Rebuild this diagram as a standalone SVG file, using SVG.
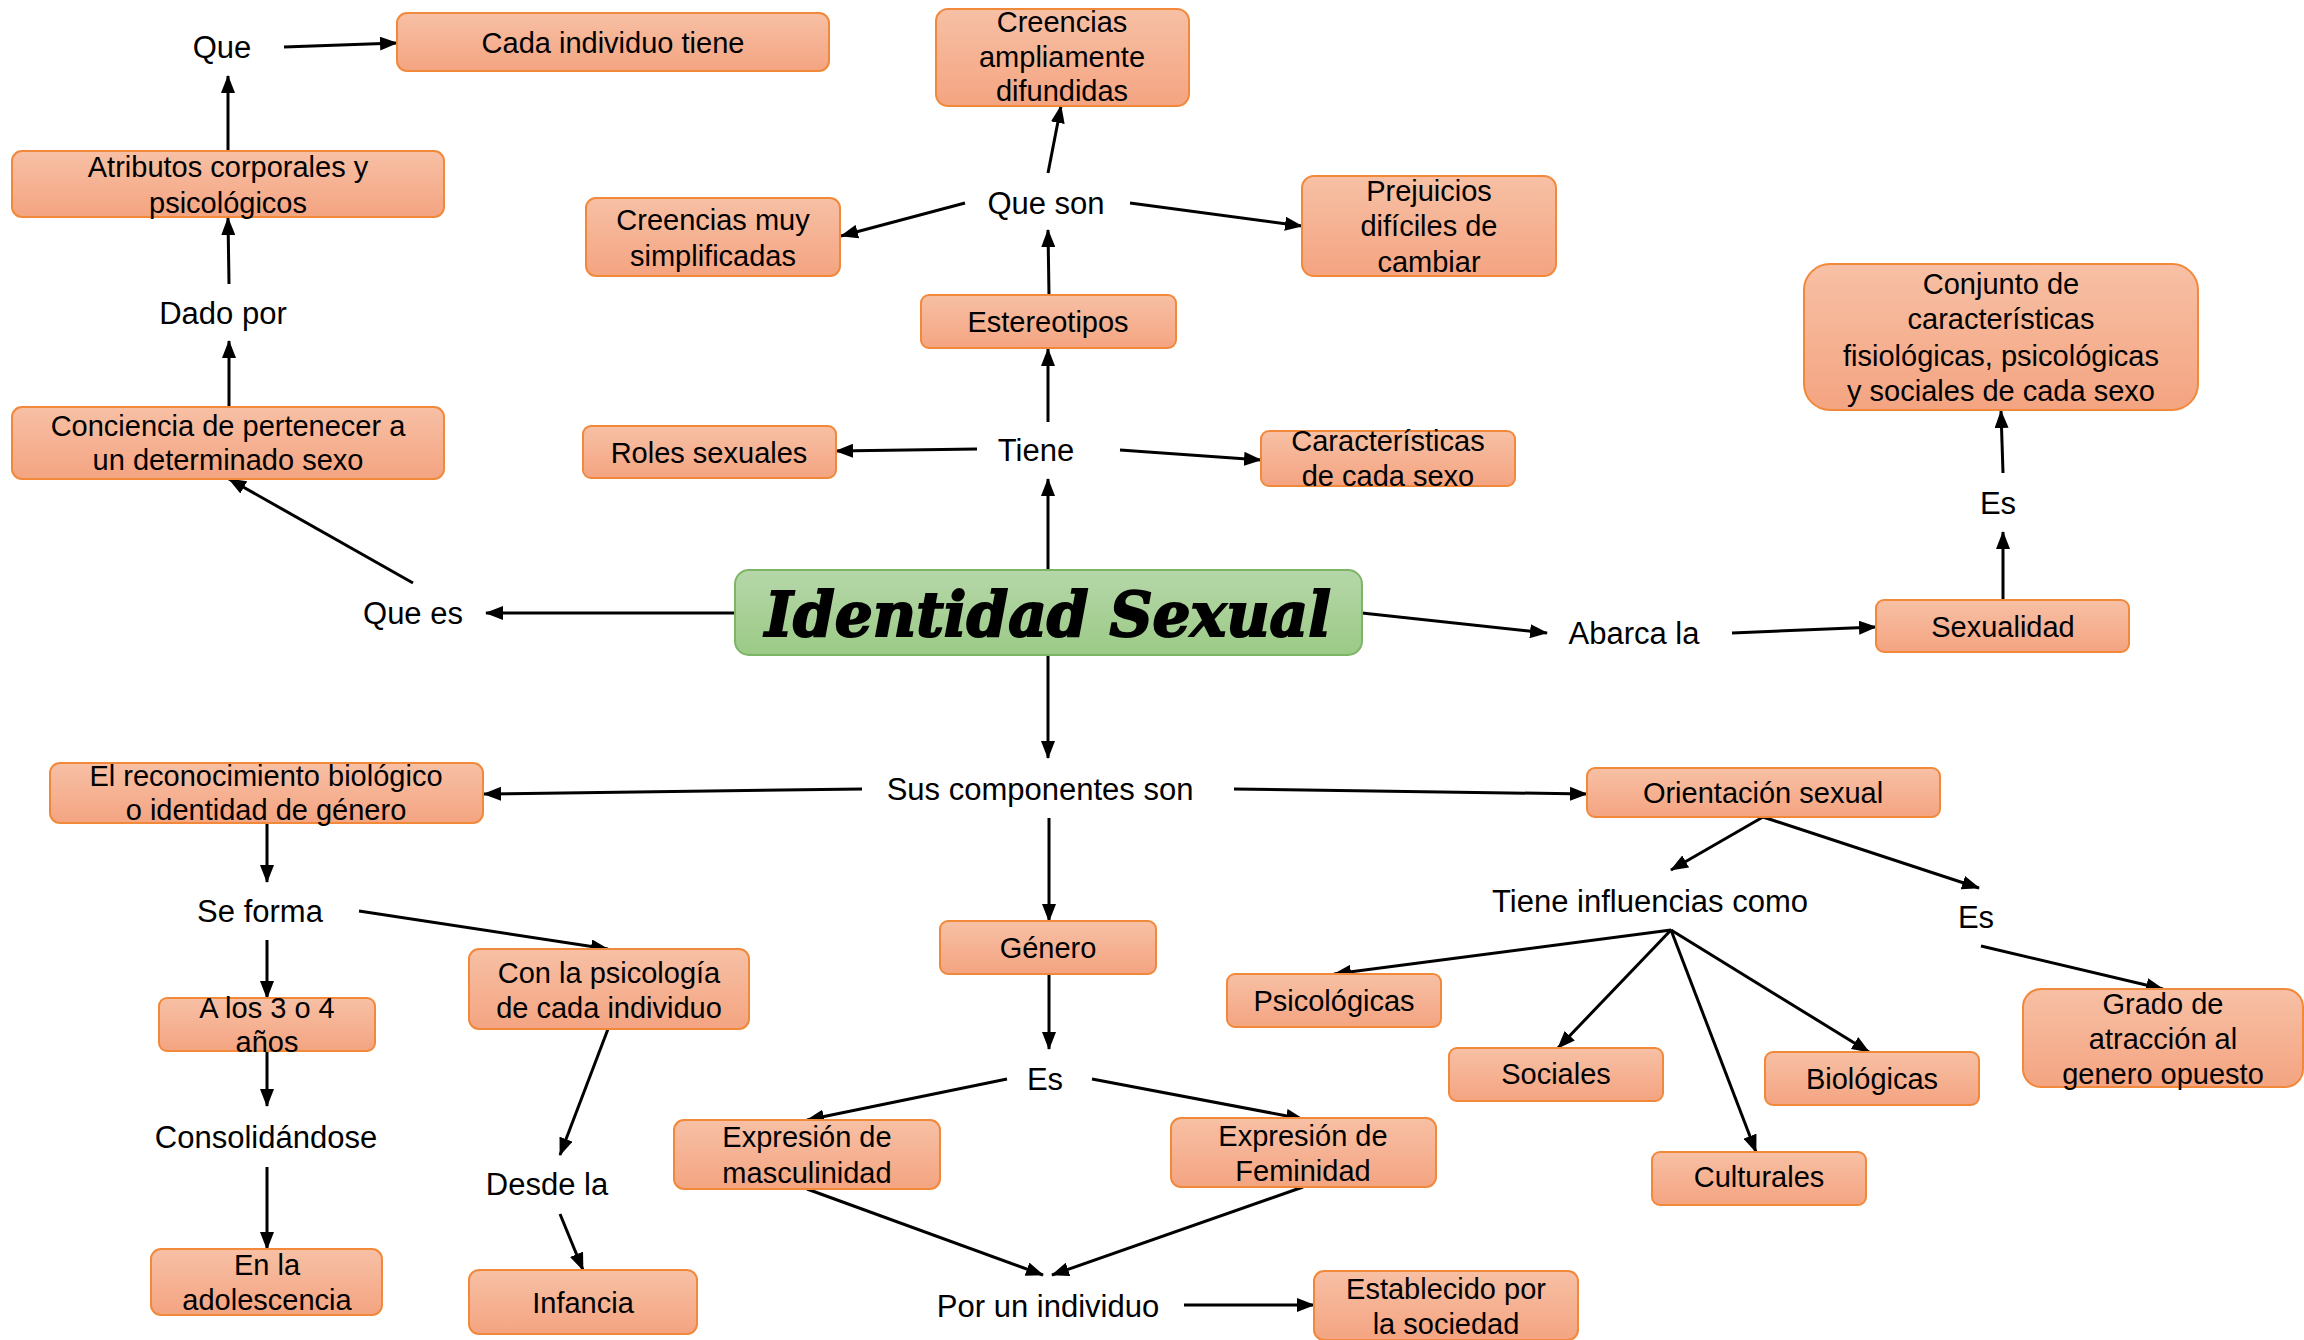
<svg xmlns="http://www.w3.org/2000/svg" width="2304" height="1340" viewBox="0 0 2304 1340">
<defs>
<linearGradient id="og" x1="0" y1="0" x2="0" y2="1"><stop offset="0" stop-color="#f7c0a5"/><stop offset="1" stop-color="#f4a481"/></linearGradient>
<linearGradient id="gg" x1="0" y1="0" x2="0" y2="1"><stop offset="0" stop-color="#b6d7a9"/><stop offset="1" stop-color="#9bca86"/></linearGradient>
<marker id="ah" markerUnits="userSpaceOnUse" markerWidth="18" markerHeight="14" refX="17" refY="7" orient="auto"><path d="M0,0 L18,7 L0,14 z" fill="#000"/></marker>
</defs>
<style>
.b{fill:url(#og);stroke:#f2883a;stroke-width:2}
.g{fill:url(#gg);stroke:#7db566;stroke-width:2}
.t{font-family:"Liberation Sans",Arial,sans-serif;font-size:29px;fill:#000;text-anchor:middle}
.l{font-family:"Liberation Sans",Arial,sans-serif;font-size:31px;fill:#000;text-anchor:middle}
.c line{stroke:#000;stroke-width:3;marker-end:url(#ah)}
</style>
<rect width="2304" height="1340" fill="#fff"/>
<g class="c" id="connectors">
<line x1="284" y1="47" x2="397" y2="43"/>
<line x1="228" y1="151" x2="228" y2="76"/>
<line x1="229" y1="284" x2="228" y2="218"/>
<line x1="229" y1="407" x2="229" y2="341"/>
<line x1="413" y1="583" x2="229" y2="479"/>
<line x1="735" y1="613" x2="486" y2="613"/>
<line x1="1048" y1="570" x2="1048" y2="479"/>
<line x1="1048" y1="422" x2="1048" y2="349"/>
<line x1="1049" y1="295" x2="1048" y2="230"/>
<line x1="1048" y1="173" x2="1061" y2="106"/>
<line x1="965" y1="203" x2="841" y2="236"/>
<line x1="1130" y1="203" x2="1302" y2="226"/>
<line x1="977" y1="449" x2="836" y2="451"/>
<line x1="1120" y1="450" x2="1261" y2="460"/>
<line x1="1362" y1="613" x2="1547" y2="633"/>
<line x1="1732" y1="633" x2="1876" y2="627"/>
<line x1="2003" y1="600" x2="2003" y2="532"/>
<line x1="2003" y1="473" x2="2001" y2="411"/>
<line x1="1048" y1="655" x2="1048" y2="758"/>
<line x1="862" y1="789" x2="484" y2="794"/>
<line x1="1234" y1="789" x2="1587" y2="794"/>
<line x1="1049" y1="818" x2="1049" y2="921"/>
<line x1="267" y1="823" x2="267" y2="882"/>
<line x1="267" y1="940" x2="267" y2="998"/>
<line x1="267" y1="1051" x2="267" y2="1106"/>
<line x1="267" y1="1167" x2="267" y2="1249"/>
<line x1="359" y1="911" x2="608" y2="949"/>
<line x1="608" y1="1029" x2="560" y2="1155"/>
<line x1="560" y1="1214" x2="583" y2="1270"/>
<line x1="1049" y1="974" x2="1049" y2="1049"/>
<line x1="1007" y1="1079" x2="807" y2="1120"/>
<line x1="1092" y1="1079" x2="1303" y2="1119"/>
<line x1="807" y1="1189" x2="1043" y2="1275"/>
<line x1="1303" y1="1187" x2="1052" y2="1275"/>
<line x1="1184" y1="1305" x2="1314" y2="1305"/>
<line x1="1763" y1="817" x2="1671" y2="870"/>
<line x1="1763" y1="817" x2="1979" y2="888"/>
<line x1="1671" y1="930" x2="1334" y2="974"/>
<line x1="1671" y1="930" x2="1558" y2="1048"/>
<line x1="1671" y1="930" x2="1756" y2="1152"/>
<line x1="1671" y1="930" x2="1869" y2="1052"/>
<line x1="1981" y1="946" x2="2163" y2="989"/>
</g>
<g id="n-cada"><rect class="b" x="397" y="13" width="432" height="58" rx="10"/><text class="t" x="613" y="53">Cada individuo tiene</text></g>
<g id="n-atributos"><rect class="b" x="12" y="151" width="432" height="66" rx="10"/><text class="t" x="228" y="177">Atributos corporales y</text><text class="t" x="228" y="213">psicológicos</text></g>
<g id="n-conciencia"><rect class="b" x="12" y="407" width="432" height="72" rx="10"/><text class="t" x="228" y="436">Conciencia de pertenecer a</text><text class="t" x="228" y="470">un determinado sexo</text></g>
<g id="n-creencias-amp"><rect class="b" x="936" y="9" width="253" height="97" rx="12"/><text class="t" x="1062" y="32">Creencias</text><text class="t" x="1062" y="67">ampliamente</text><text class="t" x="1062" y="101">difundidas</text></g>
<g id="n-creencias-muy"><rect class="b" x="586" y="198" width="254" height="78" rx="10"/><text class="t" x="713" y="230">Creencias muy</text><text class="t" x="713" y="266">simplificadas</text></g>
<g id="n-prejuicios"><rect class="b" x="1302" y="176" width="254" height="100" rx="12"/><text class="t" x="1429" y="201">Prejuicios</text><text class="t" x="1429" y="236">difíciles de</text><text class="t" x="1429" y="272">cambiar</text></g>
<g id="n-estereotipos"><rect class="b" x="921" y="295" width="255" height="53" rx="8"/><text class="t" x="1048" y="332">Estereotipos</text></g>
<g id="n-roles"><rect class="b" x="583" y="426" width="253" height="52" rx="8"/><text class="t" x="709" y="463">Roles sexuales</text></g>
<g id="n-caracteristicas"><rect class="b" x="1261" y="431" width="254" height="55" rx="8"/><text class="t" x="1388" y="451">Características</text><text class="t" x="1388" y="486">de cada sexo</text></g>
<g id="n-identidad"><rect class="g" x="735" y="570" width="627" height="85" rx="14"/><text x="1048" y="636" text-anchor="middle" font-family="'DejaVu Serif',serif" font-style="italic" font-weight="bold" font-size="62" textLength="566" lengthAdjust="spacingAndGlyphs" fill="#000" stroke="#000" stroke-width="2">Identidad Sexual</text></g>
<g id="n-conjunto"><rect class="b" x="1804" y="264" width="394" height="146" rx="26"/><text class="t" x="2001" y="294">Conjunto de</text><text class="t" x="2001" y="329">características</text><text class="t" x="2001" y="366">fisiológicas, psicológicas</text><text class="t" x="2001" y="401">y sociales de cada sexo</text></g>
<g id="n-sexualidad"><rect class="b" x="1876" y="600" width="253" height="52" rx="8"/><text class="t" x="2003" y="637">Sexualidad</text></g>
<g id="n-reconocimiento"><rect class="b" x="50" y="763" width="433" height="60" rx="10"/><text class="t" x="266" y="786">El reconocimiento biológico</text><text class="t" x="266" y="820">o identidad de género</text></g>
<g id="n-orientacion"><rect class="b" x="1587" y="768" width="353" height="49" rx="8"/><text class="t" x="1763" y="803">Orientación sexual</text></g>
<g id="n-genero"><rect class="b" x="940" y="921" width="216" height="53" rx="8"/><text class="t" x="1048" y="958">Género</text></g>
<g id="n-alos"><rect class="b" x="159" y="998" width="216" height="53" rx="8"/><text class="t" x="267" y="1018">A los 3 o 4</text><text class="t" x="267" y="1052">años</text></g>
<g id="n-psicologia"><rect class="b" x="469" y="949" width="280" height="80" rx="10"/><text class="t" x="609" y="983">Con la psicología</text><text class="t" x="609" y="1018">de cada individuo</text></g>
<g id="n-adolescencia"><rect class="b" x="151" y="1249" width="231" height="66" rx="10"/><text class="t" x="267" y="1275">En la</text><text class="t" x="267" y="1310">adolescencia</text></g>
<g id="n-infancia"><rect class="b" x="469" y="1270" width="228" height="64" rx="10"/><text class="t" x="583" y="1313">Infancia</text></g>
<g id="n-masculinidad"><rect class="b" x="674" y="1120" width="266" height="69" rx="10"/><text class="t" x="807" y="1147">Expresión de</text><text class="t" x="807" y="1183">masculinidad</text></g>
<g id="n-feminidad"><rect class="b" x="1171" y="1118" width="265" height="69" rx="10"/><text class="t" x="1303" y="1146">Expresión de</text><text class="t" x="1303" y="1181">Feminidad</text></g>
<g id="n-establecido"><rect class="b" x="1314" y="1271" width="264" height="69" rx="10"/><text class="t" x="1446" y="1299">Establecido por</text><text class="t" x="1446" y="1334">la sociedad</text></g>
<g id="n-psicologicas"><rect class="b" x="1227" y="974" width="214" height="53" rx="8"/><text class="t" x="1334" y="1011">Psicológicas</text></g>
<g id="n-sociales"><rect class="b" x="1449" y="1048" width="214" height="53" rx="8"/><text class="t" x="1556" y="1084">Sociales</text></g>
<g id="n-biologicas"><rect class="b" x="1765" y="1052" width="214" height="53" rx="8"/><text class="t" x="1872" y="1089">Biológicas</text></g>
<g id="n-culturales"><rect class="b" x="1652" y="1152" width="214" height="53" rx="8"/><text class="t" x="1759" y="1187">Culturales</text></g>
<g id="n-grado"><rect class="b" x="2023" y="989" width="280" height="98" rx="18"/><text class="t" x="2163" y="1014">Grado de</text><text class="t" x="2163" y="1049">atracción al</text><text class="t" x="2163" y="1084">genero opuesto</text></g>
<g id="labels">
<text class="l" x="222" y="58">Que</text>
<text class="l" x="223" y="324">Dado por</text>
<text class="l" x="413" y="624">Que es</text>
<text class="l" x="1046" y="214">Que son</text>
<text class="l" x="1036" y="461">Tiene</text>
<text class="l" x="1998" y="514">Es</text>
<text class="l" x="1634" y="644">Abarca la</text>
<text class="l" x="1040" y="800">Sus componentes son</text>
<text class="l" x="260" y="922">Se forma</text>
<text class="l" x="266" y="1148">Consolidándose</text>
<text class="l" x="547" y="1195">Desde la</text>
<text class="l" x="1045" y="1090">Es</text>
<text class="l" x="1048" y="1317">Por un individuo</text>
<text class="l" x="1650" y="912">Tiene influencias como</text>
<text class="l" x="1976" y="928">Es</text>
</g>
</svg>
